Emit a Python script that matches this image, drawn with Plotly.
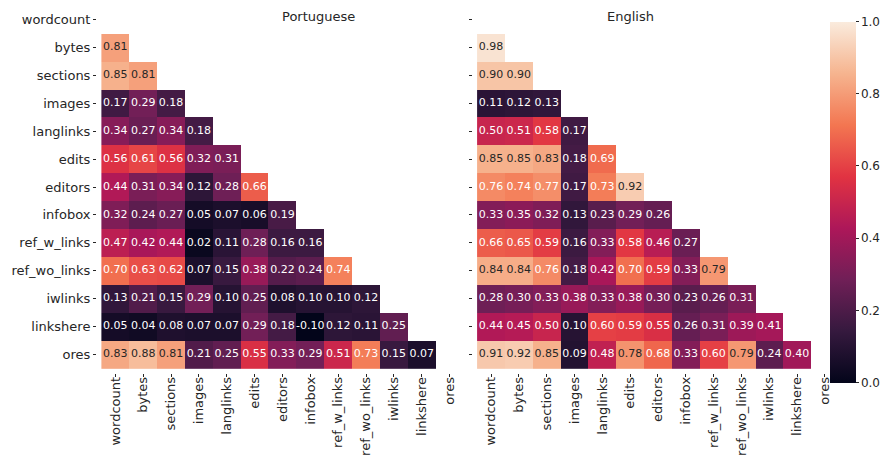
import plotly.graph_objects as go

features = ["wordcount", "bytes", "sections", "images", "langlinks", "edits", "editors",
            "infobox", "ref_w_links", "ref_wo_links", "iwlinks", "linkshere", "ores"]

# lower-triangle rows (row i has i values: correlations with features[0..i-1])
pt_rows = [
    [],
    [0.81],
    [0.85, 0.81],
    [0.17, 0.29, 0.18],
    [0.34, 0.27, 0.34, 0.18],
    [0.56, 0.61, 0.56, 0.32, 0.31],
    [0.44, 0.31, 0.34, 0.12, 0.28, 0.66],
    [0.32, 0.24, 0.27, 0.05, 0.07, 0.06, 0.19],
    [0.47, 0.42, 0.44, 0.02, 0.11, 0.28, 0.16, 0.16],
    [0.70, 0.63, 0.62, 0.07, 0.15, 0.38, 0.22, 0.24, 0.74],
    [0.13, 0.21, 0.15, 0.29, 0.10, 0.25, 0.08, 0.10, 0.10, 0.12],
    [0.05, 0.04, 0.08, 0.07, 0.07, 0.29, 0.18, -0.10, 0.12, 0.11, 0.25],
    [0.83, 0.88, 0.81, 0.21, 0.25, 0.55, 0.33, 0.29, 0.51, 0.73, 0.15, 0.07],
]

en_rows = [
    [],
    [0.98],
    [0.90, 0.90],
    [0.11, 0.12, 0.13],
    [0.50, 0.51, 0.58, 0.17],
    [0.85, 0.85, 0.83, 0.18, 0.69],
    [0.76, 0.74, 0.77, 0.17, 0.73, 0.92],
    [0.33, 0.35, 0.32, 0.13, 0.23, 0.29, 0.26],
    [0.66, 0.65, 0.59, 0.16, 0.33, 0.58, 0.46, 0.27],
    [0.84, 0.84, 0.76, 0.18, 0.42, 0.70, 0.59, 0.33, 0.79],
    [0.28, 0.30, 0.33, 0.38, 0.33, 0.38, 0.30, 0.23, 0.26, 0.31],
    [0.44, 0.45, 0.50, 0.10, 0.60, 0.59, 0.55, 0.26, 0.31, 0.39, 0.41],
    [0.91, 0.92, 0.85, 0.09, 0.48, 0.78, 0.68, 0.33, 0.60, 0.79, 0.24, 0.40],
]

titles = ["Portuguese", "English"]
colorbar_ticks = [0.0, 0.2, 0.4, 0.6, 0.8, 1.0]

# approximation of seaborn "rocket"
rocket = [
    [0.0, "#03051a"],
    [1 / 7, "#35193e"],
    [2 / 7, "#701f57"],
    [3 / 7, "#ad1759"],
    [4 / 7, "#e13342"],
    [5 / 7, "#f37651"],
    [6 / 7, "#f6b48f"],
    [1.0, "#faebdd"],
]

n = len(features)


def full_matrix(rows):
    z = []
    for i in range(n):
        row = []
        for j in range(n):
            row.append(rows[i][j] if j < i else None)
        z.append(row)
    return z


W, H = 881, 456
xdoms = [[97 / W, 463.5 / W], [472.7 / W, 838.8 / W]]
ydom = [1 - 372.7 / H, 1 - 5.8 / H]
FONT = "DejaVu Sans"
DARK = "#262626"

fig = go.Figure()
for k, rows in enumerate([pt_rows, en_rows]):
    xa = "x" if k == 0 else "x2"
    ya = "y" if k == 0 else "y2"
    z = full_matrix(rows)
    fig.add_trace(go.Heatmap(
        z=z, x=features, y=features, coloraxis="coloraxis",
        xaxis=xa, yaxis=ya, hoverinfo="skip", showscale=(k == 0),
    ))
    tx, ty, tt, tc = [], [], [], []
    for i in range(n):
        for j in range(i):
            v = rows[i][j]
            tx.append(features[j])
            ty.append(features[i])
            tt.append(f"{v:.2f}")
            tc.append(DARK if v >= 0.775 else "#ffffff")
    fig.add_trace(go.Scatter(
        x=tx, y=ty, text=tt, mode="text", xaxis=xa, yaxis=ya,
        textfont=dict(family=FONT, size=11, color=tc),
        hoverinfo="skip", showlegend=False,
    ))

axis_common = dict(
    type="category", categoryorder="array", categoryarray=features,
    showgrid=False, zeroline=False, showline=False, automargin=False,
    ticks="outside", ticklen=3, tickwidth=1, tickcolor=DARK,
    tickfont=dict(family=FONT, size=13, color=DARK),
    fixedrange=True,
)

fig.update_layout(
    width=W, height=H,
    margin=dict(l=0, r=0, t=0, b=0, autoexpand=False),
    paper_bgcolor="white", plot_bgcolor="white",
    showlegend=False,
    font=dict(family=FONT, color=DARK),
    xaxis=dict(domain=xdoms[0], anchor="y", tickangle=-90, ticklabelstandoff=-5, **axis_common),
    yaxis=dict(domain=ydom, anchor="x", autorange="reversed", **axis_common),
    xaxis2=dict(domain=xdoms[1], anchor="y2", tickangle=-90, ticklabelstandoff=-5, **axis_common),
    yaxis2=dict(domain=ydom, anchor="x2", autorange="reversed",
                showticklabels=False, **axis_common),
    coloraxis=dict(
        colorscale=rocket, cmin=0, cmax=1,
        colorbar=dict(
            x=830 / W, xanchor="left", xpad=0, ypad=0,
            y=1 - 202 / H, yanchor="middle",
            len=(382.3 - 21.7) / H, lenmode="fraction",
            thickness=26, outlinewidth=0,
            ticks="outside", ticklen=3, tickcolor=DARK,
            tickvals=colorbar_ticks, tickformat=".1f",
            tickfont=dict(family=FONT, size=12, color=DARK),
        ),
    ),
    annotations=[
        dict(text=titles[0], x=(xdoms[0][0] + xdoms[0][1]) / 2, y=1 - 16 / H,
             xref="paper", yref="paper", showarrow=False,
             font=dict(family=FONT, size=13, color=DARK), yanchor="middle"),
        dict(text=titles[1], x=(xdoms[1][0] + xdoms[1][1]) / 2, y=1 - 16 / H,
             xref="paper", yref="paper", showarrow=False,
             font=dict(family=FONT, size=13, color=DARK), yanchor="middle"),
    ],
)

fig.write_html("out.html")
